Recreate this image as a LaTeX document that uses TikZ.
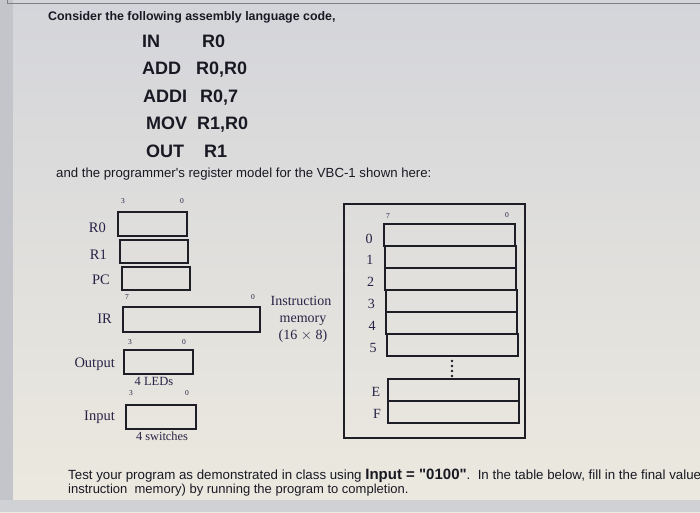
\documentclass[tikz,border=0pt]{standalone}
\usepackage{fontspec}
\setmainfont{Liberation Serif}
\newfontfamily\sansf{Liberation Sans}
\definecolor{bgtop}{RGB}{212,213,218}
\definecolor{bgbot}{RGB}{236,233,223}
\definecolor{edgegray}{RGB}{196,197,203}
\definecolor{inkc}{RGB}{30,30,38}
\definecolor{txtc}{RGB}{25,25,35}
\definecolor{serifc}{RGB}{40,35,70}
\begin{document}
\begin{tikzpicture}[x=1pt,y=-1pt,
  regbox/.style={draw=inkc,line width=1.7pt,minimum height=#1,inner sep=0pt,anchor=north west},
  regbox/.default=24pt,
  reglabel/.style={font=\fontsize{14.5}{16}\selectfont,text=serifc,anchor=base east,inner sep=0pt},
  bitlabel/.style={font=\fontsize{7.5}{8}\selectfont,text=serifc,anchor=base,inner sep=0pt},
  codeline/.style={font=\sansf\bfseries\fontsize{18}{20}\selectfont,text=txtc,anchor=base west,inner sep=0pt},
  bodytext/.style={font=\sansf\fontsize{13}{15}\selectfont,text=txtc,anchor=base west,inner sep=0pt},
  addr/.style={font=\fontsize{14}{16}\selectfont,text=serifc,anchor=base,inner sep=0pt},
  memlabel/.style={font=\fontsize{14}{16}\selectfont,text=serifc,anchor=base,inner sep=0pt},
  memdot/.style={circle,fill=inkc,inner sep=0pt,minimum size=2.6pt}]
\useasboundingbox (0,0) rectangle (700,512);
\clip (0,0) rectangle (700,512);
% background
\shade[top color=bgtop,bottom color=bgbot] (0,0) rectangle (700,512);
\fill[edgegray] (0,0) rectangle (13,512);
\fill[edgegray!80] (0,500) rectangle (700,512);
\draw[gray,line width=1pt] (7,3) -- (700,3);
\draw[gray,line width=0.8pt] (7,0) -- (7,3);
% header text
\node[bodytext,font=\sansf\bfseries\fontsize{12.4}{15}\selectfont] (t1) at (48,20) {Consider the following assembly language code,};
\node[codeline] (c1a) at (142,47) {IN};
\node[codeline] (c1b) at (202,47) {R0};
\node[codeline] (c2a) at (142,74) {ADD};
\node[codeline] (c2b) at (196,74) {R0,R0};
\node[codeline] (c3a) at (143,102) {ADDI};
\node[codeline] (c3b) at (200,102) {R0,7};
\node[codeline] (c4a) at (146,129) {MOV};
\node[codeline] (c4b) at (197,129) {R1,R0};
\node[codeline] (c5a) at (146,157) {OUT};
\node[codeline] (c5b) at (204,157) {R1};
\node[bodytext,font=\sansf\fontsize{13.2}{15}\selectfont] (t2) at (56,177) {and the programmer's register model for the VBC-1 shown here:};
% registers
\node[bitlabel] (b3a) at (123,203) {3};
\node[bitlabel] (b0a) at (182,203) {0};
\node[regbox,minimum width=69pt] (r0) at (117,211) {};
\node[regbox,minimum width=68pt,minimum height=23pt] (r1) at (119,239) {};
\node[regbox,minimum width=68pt,minimum height=23pt] (pc) at (121,266) {};
\node[reglabel] (lr0) at (106,232) {R0};
\node[reglabel] (lr1) at (107,259) {R1};
\node[reglabel] (lpc) at (110,284) {PC};
\node[bitlabel] (b7ir) at (127,299) {7};
\node[bitlabel] (b0ir) at (253,299) {0};
\node[regbox,minimum width=137pt,minimum height=25pt] (ir) at (122,306) {};
\node[reglabel] (lir) at (112,323) {IR};
\node[bitlabel] (b3o) at (130,344) {3};
\node[bitlabel] (b0o) at (184,344) {0};
\node[regbox,minimum width=69pt,minimum height=24pt] (out) at (123,349) {};
\node[reglabel] (lout) at (115,367) {Output};
\node[font=\fontsize{12.5}{14}\selectfont,text=serifc,anchor=base,inner sep=0pt] (leds) at (154,385) {4 LEDs};
\node[bitlabel] (b3i) at (131,395) {3};
\node[bitlabel] (b0i) at (187,395) {0};
\node[regbox,minimum width=70pt] (inp) at (125,404) {};
\node[reglabel] (linp) at (115,420) {Input};
\node[font=\fontsize{12.4}{14}\selectfont,text=serifc,anchor=base,inner sep=0pt] (sw) at (162,440) {4 switches};
% instruction memory label
\node[memlabel] (iml1) at (301,305) {Instruction};
\node[memlabel] (iml2) at (303,322) {memory};
\node[memlabel] (iml3) at (303,339) {(16 $\times$ 8)};
% memory
\node[regbox,minimum width=181pt,minimum height=234pt,line width=1.5pt] (mem) at (343,203) {};
\node[bitlabel] (m7) at (388,218) {7};
\node[bitlabel] (m0) at (507,217) {0};
\foreach \i/\lab/\bl/\xx/\yy in {0/0/243/383/223,1/1/264/384/245,2/2/286/384/267,3/3/308/385/289,4/4/330/385/311,5/5/352/386/333}{
  \node[regbox,minimum width=131pt,minimum height=22pt] (row\i) at (\xx,\yy) {};
  \node[addr] (a\i) at ({369+0.8*\i},\bl) {\lab};
}
\foreach \k/\yy in {1/361,2/366,3/371,4/376}{
  \node[memdot] (dot\k) at (452,\yy) {};
}
\node[regbox,minimum width=131pt,minimum height=22pt] (rowE) at (387,378) {};
\node[regbox,minimum width=131pt,minimum height=22pt] (rowF) at (387,400) {};
\node[addr] (aE) at (376,396) {E};
\node[addr] (aF) at (377,418) {F};
% bottom text
\node[bodytext,font=\sansf\fontsize{13.3}{15}\selectfont] (t3) at (68,479) {Test your program as demonstrated in class using \textbf{\fontsize{15}{18}\selectfont Input = "0100"}.~~In the table below, fill in the final values};
\node[bodytext] (t4) at (68,493) {instruction~~memory) by running the program to completion.};
\end{tikzpicture}
\end{document}
